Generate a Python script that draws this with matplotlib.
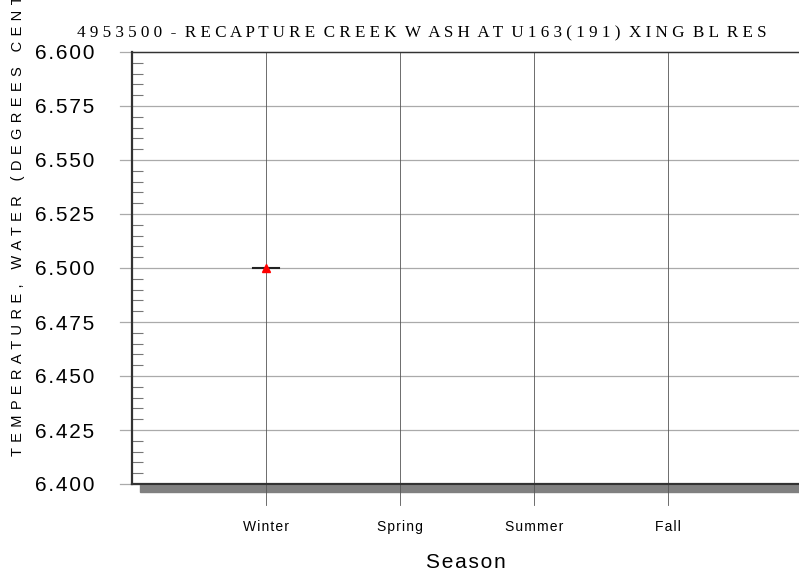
import matplotlib
matplotlib.use("Agg")
import matplotlib.pyplot as plt
from matplotlib.ticker import MultipleLocator

# data
seasons = ['Winter', 'Spring', 'Summer', 'Fall']
season_pos = [1, 2, 3, 4]
obs_season = [1]
obs_value = [6.5]
y_ticks = [6.400, 6.425, 6.450, 6.475, 6.500, 6.525, 6.550, 6.575, 6.600]

title = "4953500 - RECAPTURE CREEK W ASH AT U163(191) XING BL RES"
ylab = "TEMPERATURE, WATER (DEGREES CENTIGRADE)"

sans = ['Liberation Sans', 'DejaVu Sans']
serif = ['Liberation Serif', 'DejaVu Serif']
hs = '\u200a'

W, H = 799, 577
fig = plt.figure(figsize=(W / 100, H / 100), dpi=100)
x0, x1, yt, yb = 132, 802, 52, 484
ax = fig.add_axes([x0 / W, 1 - yb / H, (x1 - x0) / W, (yb - yt) / H])

ax.set_xlim(0, 5)
ax.set_ylim(6.4, 6.6)

# shadow under the bottom axis
ax.axhspan(6.4 - 0.2 * 8 / 432, 6.4, xmin=8 / 670, xmax=1, color='#808080',
           clip_on=False, zorder=0)

for v in y_ticks:
    ax.plot([-0.09, 5], [v, v], color='#aaaaaa', lw=0.9, clip_on=False, zorder=1)
for p in season_pos:
    ax.plot([p, p], [6.6, 6.4 - 0.2 * 21 / 432], color='#555555', lw=0.6,
            clip_on=False, zorder=1)

# observation: median bar and marker
for s, v in zip(obs_season, obs_value):
    ax.plot([s - 0.1, s + 0.1], [v, v], color='#222222', lw=1.5, zorder=3)
ax.plot(obs_season, obs_value, marker='^', color='red', ms=6, ls='none', zorder=4)

ax.spines['right'].set_visible(False)
ax.spines['left'].set_linewidth(1.6)
ax.spines['bottom'].set_linewidth(1.6)
ax.spines['top'].set_linewidth(1.0)
for sp in ['left', 'bottom', 'top']:
    ax.spines[sp].set_color('#333333')

ax.set_yticks(y_ticks)
ax.set_yticklabels([hs.join(f"{v:.3f}") for v in y_ticks], family=sans, fontsize=15)
ax.yaxis.set_minor_locator(MultipleLocator(0.005))
ax.tick_params(axis='y', which='major', length=0, pad=27)
ax.tick_params(axis='y', which='minor', direction='in', length=8, color='#777777',
               width=0.8)

ax.set_xticks(season_pos)
ax.set_xticklabels([hs.join(s) for s in seasons], family=sans, fontsize=10)
ax.tick_params(axis='x', length=0, pad=26)

fig.text(422 / W, 1 - 33 / H, ' '.join(title).replace('   ', '  '), family=serif,
         fontsize=12.3, ha='center', va='center')
fig.text(466 / W, 1 - 563 / H, hs.join('Season'), family=sans, fontsize=15,
         ha='center', va='center')
fig.text(18 / W, 1 - 456 / H, (' ' + hs).join(ylab), family=sans, fontsize=10.5,
         rotation=90, ha='center', va='bottom')

fig.savefig('out.png', dpi=100)
